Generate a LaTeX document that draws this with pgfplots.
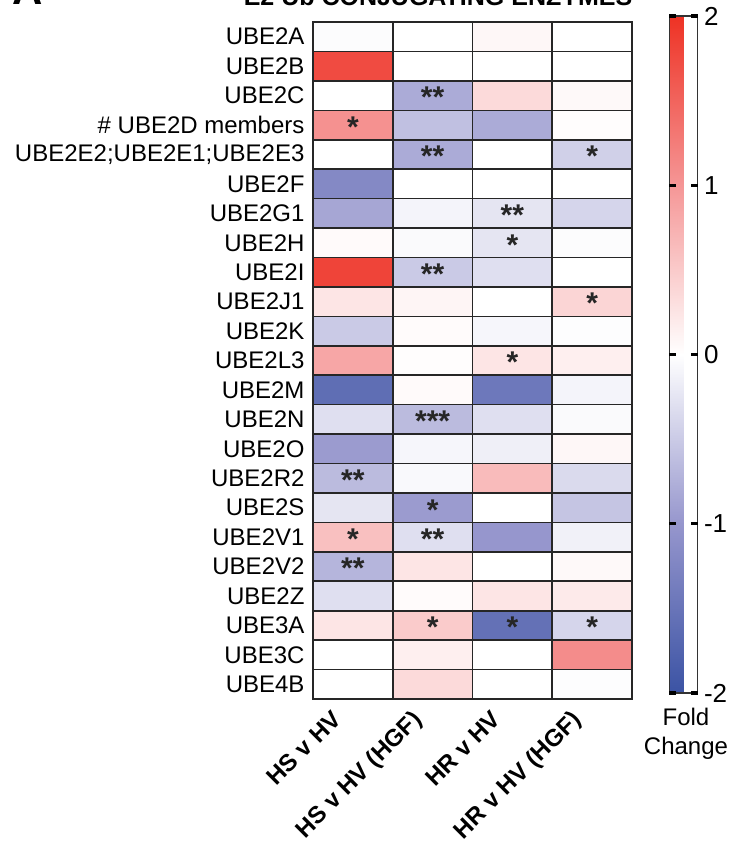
\documentclass[border=0pt]{standalone}
\usepackage{pgfplots}
\pgfplotsset{compat=1.18}
\usepackage{pgfplotstable}
\usepackage{fontspec}
\setmainfont{Liberation Sans}
\usetikzlibrary{calc}

\pgfplotstableread{
x y c
0 0 -0.03
1 0 0
2 0 0.08
3 0 0
0 1 1.75
1 1 0
2 1 0
3 1 0
0 2 0
1 2 -0.8
2 2 0.35
3 2 0.06
0 3 1.05
1 3 -0.6
2 3 -0.8
3 3 0.02
0 4 0
1 4 -0.8
2 4 0
3 4 -0.45
0 5 -1.2
1 5 0
2 5 0
3 5 0
0 6 -0.85
1 6 -0.1
2 6 -0.25
3 6 -0.4
0 7 0.05
1 7 -0.05
2 7 -0.25
3 7 -0.03
0 8 1.82
1 8 -0.5
2 8 -0.3
3 8 0
0 9 0.25
1 9 0.1
2 9 0
3 9 0.4
0 10 -0.5
1 10 0.04
2 10 -0.08
3 10 -0.02
0 11 0.85
1 11 0.02
2 11 0.25
3 11 0.15
0 12 -1.6
1 12 0.05
2 12 -1.45
3 12 -0.1
0 13 -0.3
1 13 -0.65
2 13 -0.3
3 13 -0.05
0 14 -0.95
1 14 -0.08
2 14 -0.15
3 14 0.08
0 15 -0.65
1 15 -0.06
2 15 0.65
3 15 -0.35
0 16 -0.25
1 16 -0.95
2 16 0
3 16 -0.55
0 17 0.6
1 17 -0.3
2 17 -1.0
3 17 -0.13
0 18 -0.7
1 18 0.25
2 18 0
3 18 0.06
0 19 -0.3
1 19 0.04
2 19 0.25
3 19 0.2
0 20 0.25
1 20 0.5
2 20 -1.55
3 20 -0.4
0 21 0
1 21 0.15
2 21 0
3 21 1.1
0 22 0
1 22 0.35
2 22 0
3 22 -0.02
}\heat

\pgfplotstableread{
x y lbl
1 2 **
0 3 *
1 4 **
3 4 *
2 6 **
2 7 *
1 8 **
3 9 *
2 11 *
1 13 ***
0 15 **
1 16 *
0 17 *
1 17 **
0 18 **
1 20 *
2 20 *
3 20 *
}\stars

\begin{document}
\begin{tikzpicture}
\useasboundingbox (0,0) rectangle (729pt,855pt);
\begin{axis}[
  at={(313pt,156pt)}, anchor=south west,
  scale only axis, width=319pt, height=677pt,
  xmin=-0.5, xmax=3.5, ymin=-0.5, ymax=22.5,
  y dir=reverse,
  axis on top,
  xtick={0,1,2,3},
  xticklabels={HS v HV, HS v HV (HGF), HR v HV, HR v HV (HGF)},
  ytick={0,...,22},
  yticklabels={UBE2A, UBE2B, UBE2C, {\# UBE2D members}, {UBE2E2;UBE2E1;UBE2E3}, UBE2F, UBE2G1, UBE2H, UBE2I, UBE2J1, UBE2K, UBE2L3, UBE2M, UBE2N, UBE2O, UBE2R2, UBE2S, UBE2V1, UBE2V2, UBE2Z, UBE3A, UBE3C, UBE4B},
  minor xtick={0.5,1.5,2.5},
  minor ytick={0.5,1.5,...,21.5},
  grid=minor,
  minor grid style={black!85, line width=1.6pt},
  major tick length=0pt, minor tick length=0pt,
  axis line style={black!85, line width=1.6pt},
  xticklabel style={font=\fontsize{24pt}{28pt}\selectfont\bfseries, anchor=north east, xshift=-22pt, yshift=-5pt, rotate=45},
  yticklabel style={font=\fontsize{24pt}{28pt}\selectfont, xshift=-5pt},
  colormap={bwr}{rgb255(0cm)=(59,83,164); rgb255(1cm)=(150,150,205); rgb255(2cm)=(255,255,255); rgb255(3cm)=(245,150,150); rgb255(4cm)=(238,50,36)},
  point meta min=-2, point meta max=2,
  colorbar,
  colorbar style={
    name=cb,
    at={(parent axis.north east)}, anchor=north west,
    xshift=29pt, yshift=6pt,
    scale only axis,
    width=28pt, height=677pt,
    ytick={-2,-1,0,1,2},
    yticklabel pos=right,
    major tick length=0pt,
    axis line style={black!80, line width=1.2pt},
    yticklabel style={font=\fontsize{26pt}{28pt}\selectfont, /pgf/number format/assume math mode=true, xshift=3pt},
  },
]
\addplot[matrix plot*, mesh/cols=4, point meta=explicit] table[x=x, y=y, meta=c] {\heat};
\addplot[only marks, mark=none, point meta=explicit symbolic,
  nodes near coords,
  nodes near coords style={anchor=center, font=\fontsize{30pt}{30pt}\selectfont\bfseries, text=black!85, yshift=-2pt}]
  table[x=x, y=y, meta=lbl] {\stars};
\end{axis}
\foreach \v in {0,0.25,0.5,0.75,1} {
  \fill[black] ($(cb.south west)!\v!(cb.north west)+(-0.6pt,-1.6pt)$) rectangle ++(7.5pt,3.2pt);
  \fill[black] ($(cb.south east)!\v!(cb.north east)+(0.6pt,-1.6pt)$) rectangle ++(-7.5pt,3.2pt);
}
\node[anchor=north, align=center, inner sep=0pt, font=\fontsize{24pt}{29pt}\selectfont] at (686pt,147pt) {Fold\\Change};
\node[anchor=base, inner sep=0pt, font=\fontsize{25pt}{28pt}\selectfont\bfseries] at (438pt,849pt) {E2 Ub CONJUGATING ENZYMES};
\node[anchor=base west, inner sep=0pt, font=\fontsize{42pt}{44pt}\selectfont\bfseries] at (12pt,850pt) {A};
\end{tikzpicture}
\end{document}
